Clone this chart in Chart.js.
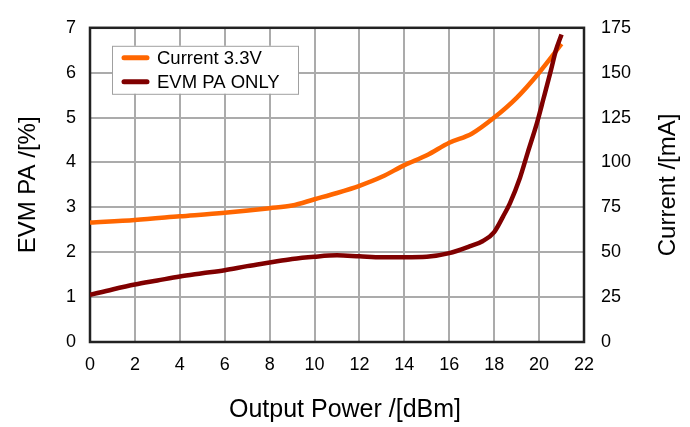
<!DOCTYPE html>
<html>
<head>
<meta charset="utf-8">
<script src="https://cdn.jsdelivr.net/npm/chart.js@4.4.1/dist/chart.umd.min.js"></script>
<style>
html,body{margin:0;padding:0;background:#fff;}
#wrap{width:690px;height:427px;position:relative;}
</style>
</head>
<body>
<div id="wrap"><canvas id="c" width="690" height="427"></canvas></div>
<script>
// Output power (dBm) sample points and values
const xEvm = [0, 1, 2, 3, 4, 5, 6, 7, 8, 9, 10, 11, 12, 13, 14, 15, 16, 16.9, 17.5, 18, 18.4, 18.7, 19.15, 19.5, 19.9, 20.2, 20.5, 20.75, 21];
const evmPaOnly = [1.05, 1.17, 1.28, 1.37, 1.46, 1.53, 1.60, 1.69, 1.77, 1.85, 1.90, 1.93, 1.91, 1.89, 1.89, 1.90, 1.98, 2.13, 2.25, 2.45, 2.80, 3.09, 3.66, 4.23, 4.87, 5.43, 6.0, 6.5, 6.85];
const xCurrent = [0, 2, 4, 6, 8, 9, 10, 11, 12, 13, 14, 15, 16, 17, 18, 19, 20, 21];
const current33 = [66.5, 68, 70, 72, 74.5, 76, 79.5, 83, 87, 92, 98.5, 104, 111, 116, 125, 136, 150, 166];
const legendLabels = ["Current 3.3V", "EVM PA ONLY"];
const xTitle = "Output Power /[dBm]";
const yTitle = "EVM PA /[%]";
const y1Title = "Current /[mA]";

const FONT = "'Liberation Sans', Arial, sans-serif";
const ORANGE = '#ff6600';
const DARKRED = '#800000';

const frame = {
  id: 'frame',
  beforeDatasetsDraw(chart) {
    const {ctx, chartArea: a} = chart;
    ctx.save();
    ctx.strokeStyle = '#222';
    ctx.lineWidth = 2.5;
    ctx.strokeRect(a.left, a.top, a.right - a.left, a.bottom - a.top);
    ctx.restore();
  }
};

const axisTitles = {
  id: 'axisTitles',
  afterDraw(chart) {
    const {ctx, chartArea: a} = chart;
    ctx.save();
    ctx.fillStyle = '#000';
    ctx.font = '25px ' + FONT;
    ctx.textAlign = 'center';
    ctx.textBaseline = 'middle';
    ctx.fillText(xTitle, (a.left + a.right) / 2 + 8, 410);
    ctx.translate(668, (a.top + a.bottom) / 2);
    ctx.rotate(-Math.PI / 2);
    ctx.font = '24px ' + FONT;
    ctx.fillText(y1Title, 0, 0);
    ctx.restore();
  }
};

const boxLegend = {
  id: 'boxLegend',
  afterDatasetsDraw(chart) {
    const {ctx, chartArea: a} = chart;
    const x0 = a.left + 22, y0 = a.top + 18, w = 186, h = 48;
    ctx.save();
    ctx.fillStyle = '#fff';
    ctx.fillRect(x0, y0, w, h);
    ctx.strokeStyle = '#a0a0a0';
    ctx.lineWidth = 1;
    ctx.strokeRect(x0 + 0.5, y0 + 0.5, w, h);
    const items = [[legendLabels[0], ORANGE], [legendLabels[1], DARKRED]];
    items.forEach((it, i) => {
      const cy = y0 + 12 + i * 24;
      ctx.strokeStyle = it[1];
      ctx.lineWidth = 5;
      ctx.lineCap = 'round';
      ctx.beginPath();
      ctx.moveTo(x0 + 12, cy);
      ctx.lineTo(x0 + 35, cy);
      ctx.stroke();
      ctx.fillStyle = '#000';
      ctx.font = '18.5px ' + FONT;
      ctx.textBaseline = 'middle';
      ctx.textAlign = 'left';
      ctx.fillText(it[0], x0 + 45, cy + 1);
    });
    ctx.restore();
  }
};

const gridColor = '#ababab';
new Chart(document.getElementById('c'), {
  type: 'line',
  data: {
    datasets: [
      {
        label: legendLabels[1],
        data: xEvm.map((x, i) => ({x: x, y: evmPaOnly[i]})),
        borderColor: DARKRED,
        borderWidth: 4.5,
        pointRadius: 0,
        cubicInterpolationMode: 'monotone',
        yAxisID: 'y'
      },
      {
        label: legendLabels[0],
        data: xCurrent.map((x, i) => ({x: x, y: current33[i]})),
        borderColor: ORANGE,
        borderWidth: 4.5,
        pointRadius: 0,
        cubicInterpolationMode: 'monotone',
        yAxisID: 'y1'
      }
    ]
  },
  options: {
    responsive: false,
    animation: false,
    devicePixelRatio: 1,
    layout: {padding: {top: 13, left: 0, right: 0, bottom: 0}},
    plugins: {legend: {display: false}, tooltip: {enabled: false}},
    scales: {
      x: {
        type: 'linear', min: 0, max: 22,
        afterFit(s) { s.height = 85; },
        ticks: {stepSize: 2, color: '#000', font: {family: FONT, size: 18}, padding: 12, maxRotation: 0},
        grid: {color: gridColor, lineWidth: 2, drawTicks: false},
        border: {display: false},
        title: {display: false}
      },
      y: {
        type: 'linear', position: 'left', min: 0, max: 7,
        afterFit(s) { s.width = 90; },
        ticks: {stepSize: 1, color: '#000', font: {family: FONT, size: 18}, padding: 14},
        grid: {color: gridColor, lineWidth: 2, drawTicks: false},
        border: {display: false},
        title: {display: true, text: yTitle, color: '#000', font: {family: FONT, size: 24}, padding: {top: 14, bottom: 0}}
      },
      y1: {
        type: 'linear', position: 'right', min: 0, max: 175,
        afterFit(s) { s.width = 106; },
        ticks: {stepSize: 25, color: '#000', font: {family: FONT, size: 18}, padding: 17},
        grid: {drawOnChartArea: false, drawTicks: false},
        border: {display: false},
        title: {display: false}
      }
    }
  },
  plugins: [frame, boxLegend, axisTitles]
});
</script>
</body>
</html>
